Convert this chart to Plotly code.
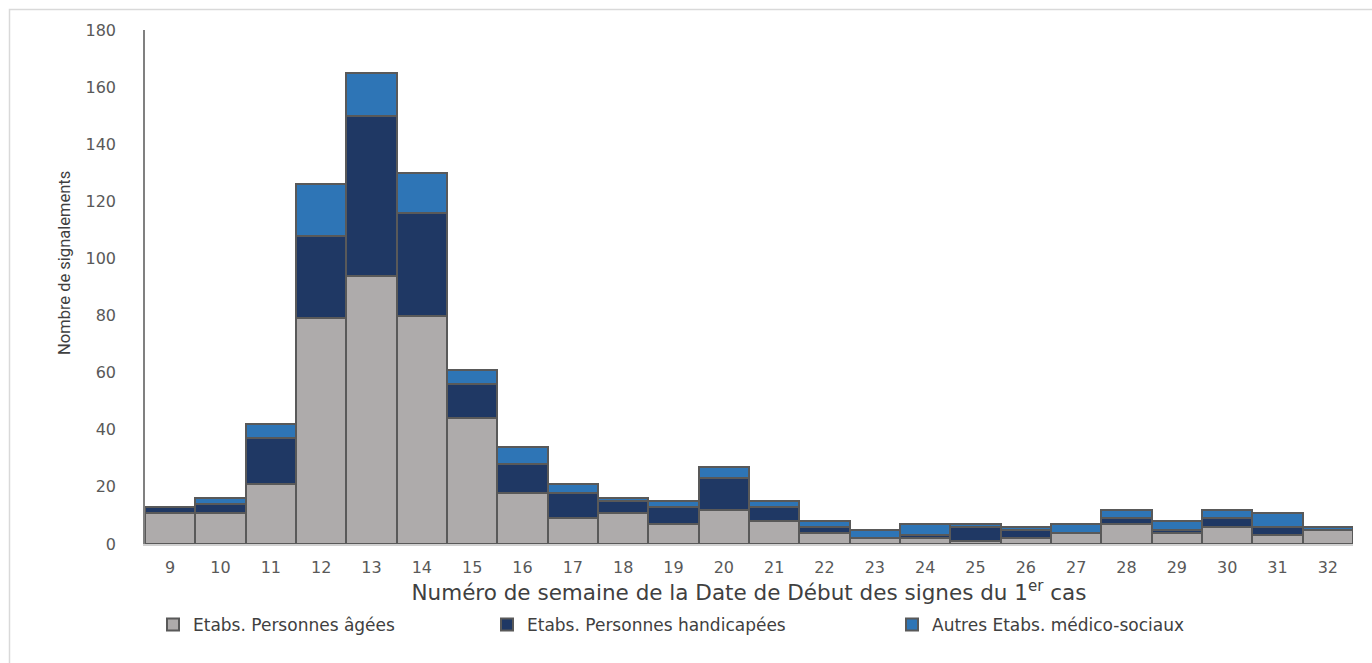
import plotly.graph_objects as go

weeks = ["9", "10", "11", "12", "13", "14", "15", "16", "17", "18", "19", "20",
         "21", "22", "23", "24", "25", "26", "27", "28", "29", "30", "31", "32"]
personnes_agees = [11, 11, 21, 79, 94, 80, 44, 18, 9, 11, 7, 12,
                   8, 4, 2, 2, 1, 2, 4, 7, 4, 6, 3, 5]
personnes_handicapees = [2, 3, 16, 29, 56, 36, 12, 10, 9, 4, 6, 11,
                         5, 2, 0, 1, 5, 3, 0, 2, 1, 3, 3, 0]
autres_medico_sociaux = [0, 2, 5, 18, 15, 14, 5, 6, 3, 1, 2, 4,
                         2, 2, 3, 4, 1, 1, 3, 3, 3, 3, 5, 1]

series_names = ["Etabs. Personnes âgées", "Etabs. Personnes handicapées",
                "Autres Etabs. médico-sociaux"]
colors = ["#AEABAB", "#1F3864", "#2E75B6"]

W, H = 1372, 663
L, R, T, B = 145, 19, 30, 119
pw = W - L - R
ph = H - T - B

def px_x(p):
    return (p - L) / pw

def px_y(p):
    return (H - B - p) / ph

fig = go.Figure()
legend_ids = ["legend", "legend2", "legend3"]
for name, vals, col, lg in zip(series_names,
                               [personnes_agees, personnes_handicapees, autres_medico_sociaux],
                               colors, legend_ids):
    fig.add_trace(go.Bar(
        x=weeks, y=vals, name=name,
        marker=dict(color=col, line=dict(color="#595959", width=2)),
        legend=lg,
    ))

legend_font = dict(family="DejaVu Sans", size=17, color="#404040")
legend_common = dict(orientation="h", yanchor="middle", xanchor="left",
                     bgcolor="rgba(0,0,0,0)", font=legend_font,
                     itemwidth=30, tracegroupgap=0)

fig.update_layout(
    width=W, height=H, autosize=False,
    margin=dict(l=L, r=R, t=T, b=B),
    paper_bgcolor="white", plot_bgcolor="white",
    barmode="stack", bargap=0,
    showlegend=True,
    legend=dict(x=px_x(153), y=px_y(625), **legend_common),
    legend2=dict(x=px_x(487), y=px_y(625), **legend_common),
    legend3=dict(x=px_x(892), y=px_y(625), **legend_common),
    xaxis=dict(
        type="category", range=[-0.5, 23.5],
        showline=True, linecolor="#D0D0D0", linewidth=2,
        showgrid=False, ticks="",
        ticklabelstandoff=8,
        tickfont=dict(family="DejaVu Sans", size=16, color="#595959"),
        title=dict(text="Numéro de semaine de la Date de Début des signes du 1<sup>er</sup> cas",
                   font=dict(family="DejaVu Sans", size=21.5, color="#404040"),
                   standoff=8),
    ),
    yaxis=dict(
        range=[0, 180], dtick=20, tick0=0,
        showline=True, linecolor="#808080", linewidth=1.5,
        showgrid=False, zeroline=False, ticks="",
        ticklabelstandoff=24,
        tickfont=dict(family="DejaVu Sans", size=16, color="#595959"),
    ),
    annotations=[dict(text="Nombre de signalements", textangle=-90,
                      xref="paper", yref="paper", x=px_x(64), y=px_y(263),
                      xanchor="center", yanchor="middle", showarrow=False,
                      font=dict(family="Liberation Sans Narrow, Roboto", size=16.5, color="#404040"))],
    shapes=[dict(type="rect", xref="paper", yref="paper",
                 x0=px_x(9.5), x1=px_x(1400), y0=px_y(700), y1=px_y(9.5),
                 line=dict(color="#D9D9D9", width=1.5), fillcolor="rgba(0,0,0,0)",
                 layer="below")],
)

fig.write_html("out.html")
